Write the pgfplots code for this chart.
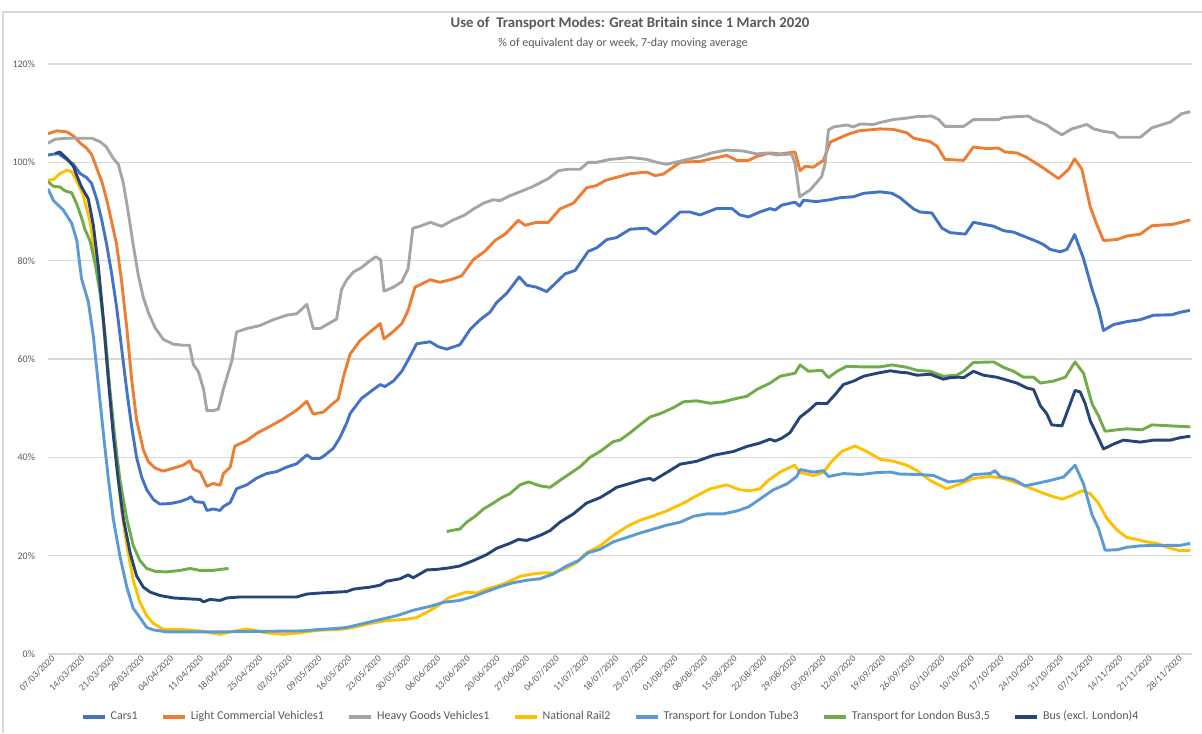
\documentclass[border=0pt]{standalone}
\usepackage{pgfplots}
\pgfplotsset{compat=1.18}
\usepackage{fontspec}
\setmainfont{Carlito}
\definecolor{cCars}{HTML}{4472C4}
\definecolor{cLCV}{HTML}{ED7D31}
\definecolor{cHGV}{HTML}{A5A5A5}
\definecolor{cNR}{HTML}{FFC000}
\definecolor{cTube}{HTML}{5B9BD5}
\definecolor{cBus}{HTML}{70AD47}
\definecolor{cBusx}{HTML}{264478}
\definecolor{cGrid}{HTML}{D9D9D9}
\definecolor{cText}{HTML}{595959}
\begin{document}
\begin{tikzpicture}
\useasboundingbox (-24pt,-39.5pt) rectangle (577pt,327pt);
\draw[cGrid, line width=0.6pt] (-22.5pt,-39.5pt) -- (-22.5pt,321pt) -- (577pt,321pt);
\node[font=\bfseries\fontsize{7.4}{8.4}\selectfont, text=cText] at (291pt,315.5pt) {Use of\ \ Transport Modes: Great Britain since 1 March 2020};
\node[font=\fontsize{6}{7}\selectfont, text=cText] at (287.5pt,305.5pt) {\% of equivalent day or week, 7-day moving average};
\begin{axis}[
  at={(0pt,0pt)}, anchor=south west,
  scale only axis, width=572pt, height=295pt,
  xmin=0, xmax=270, ymin=0, ymax=120,
  axis line style={draw=none},
  major tick length=0pt,
  ymajorgrids, grid style={cGrid, line width=0.6pt},
  ytick={0,20,40,60,80,100,120},
  yticklabels={0\%,20\%,40\%,60\%,80\%,100\%,120\%},
  yticklabel style={font=\fontsize{5}{6}\selectfont, text=cText, xshift=-3pt},
  xtick={0,7,...,266},
  xticklabels={07/03/2020,14/03/2020,21/03/2020,28/03/2020,04/04/2020,11/04/2020,18/04/2020,25/04/2020,02/05/2020,09/05/2020,16/05/2020,23/05/2020,30/05/2020,06/06/2020,13/06/2020,20/06/2020,27/06/2020,04/07/2020,11/07/2020,18/07/2020,25/07/2020,01/08/2020,08/08/2020,15/08/2020,22/08/2020,29/08/2020,05/09/2020,12/09/2020,19/09/2020,26/09/2020,03/10/2020,10/10/2020,17/10/2020,24/10/2020,31/10/2020,07/11/2020,14/11/2020,21/11/2020,28/11/2020},
  xticklabel style={font=\fontsize{4.7}{5.7}\selectfont, text=cText, rotate=45, anchor=east, inner sep=0.6pt, yshift=-3pt, xshift=1.5pt},
  legend style={at={(0.493,-0.1068)}, anchor=center, draw=none, fill=none, legend columns=7,
    font=\fontsize{6}{7}\selectfont, text=cText,
    /tikz/every even column/.append style={column sep=10pt}},
  legend cell align=left,
  legend image code/.code={\draw[#1, line width=1.6pt] (0pt,0pt) -- (11pt,0pt);},
  every axis plot/.append style={line width=1.45pt, line join=round},
]
\addplot[cCars] coordinates {
(0,101.5) (2.4,101.8) (4.4,100.6) (6,99.6) (7.6,97.7) (9.1,96.9) (10.3,95.7) (11.5,92.5) (12.7,88.2) (13.8,83.5) (15,77.5) (16.2,70.5) (17.4,62) (18.6,53.5) (19.7,46.5) (20.9,40) (22.1,36) (23.3,33.4) (24.9,31.4) (26.4,30.5) (28.8,30.6) (31.2,31) (33.1,31.6) (33.7,32) (34.7,31) (36.7,30.8) (37.5,29.2) (39,29.5) (40.6,29.2) (41.4,30) (43,30.8) (44.5,33.6) (46.9,34.4) (49.3,35.8) (51.6,36.7) (54,37.1) (56.3,38) (58.7,38.7) (61.1,40.5) (62.2,39.8) (64.2,39.8) (65,40.2) (67.3,41.8) (68.9,44) (70.5,47) (71.3,48.9) (74,52) (76.8,53.8) (78.4,54.8) (79.5,54.4) (81.5,55.5) (83.5,57.5) (85,59.8) (87,63.1) (90.2,63.5) (92.1,62.5) (94.1,62) (97.2,62.9) (99.6,66) (102,68) (104.3,69.5) (105.9,71.5) (108.3,73.4) (111.2,76.7) (113,75) (115.3,74.6) (117.7,73.7) (120.1,75.7) (122,77.3) (124.4,78) (127.5,81.9) (129.5,82.6) (131.9,84.3) (134.2,84.7) (137.4,86.4) (141.3,86.6) (143.3,85.4) (146,87.4) (149.2,89.9) (151.5,89.9) (153.9,89.3) (157.8,90.6) (161.4,90.6) (163.3,89.3) (165.3,88.9) (168,89.9) (170.4,90.6) (171.6,90.3) (173.2,91.3) (176.3,91.9) (177.4,91.1) (178.3,92.3) (181.4,92) (184.6,92.4) (186.9,92.8) (190.1,93) (192.5,93.7) (196.4,94) (199.2,93.7) (201.1,92.8) (204.3,90.5) (205.8,89.9) (208.6,89.7) (211,86.6) (212.9,85.7) (216.5,85.4) (218.4,87.8) (223.2,87) (225.5,86.1) (227.9,85.8) (230.2,85) (233.4,83.9) (234.9,83.3) (236.5,82.3) (238.9,81.8) (240.5,82.3) (242.3,85.3) (244.4,80.4) (246.4,74.2) (247.9,70.3) (249.1,65.8) (251.5,67) (254.6,67.6) (257.8,68) (260.9,68.9) (265.2,69) (267.2,69.5) (269.5,69.9)
};
\addlegendentry{Cars1}
\addplot[cLCV] coordinates {
(0,105.8) (2,106.4) (4.4,106.2) (6,105.4) (7.6,103.9) (9.1,102.9) (10.3,101.6) (11.5,98.8) (12.7,96.1) (13.8,92.6) (15,88) (16.2,83.3) (17.4,75.6) (18.6,66.3) (19.7,56.2) (20.9,47.7) (22.5,41.5) (23.7,39.1) (25.3,37.8) (27.2,37.2) (29.6,37.8) (31.9,38.4) (33.5,39.3) (34.3,37.6) (35.9,37) (37.5,34.1) (39,34.7) (40.6,34.3) (41.4,36.7) (43,38) (44.1,42.3) (46.9,43.4) (49.3,44.9) (52.4,46.3) (55.5,47.8) (58.7,49.6) (61.1,51.4) (62.6,48.8) (65,49.2) (67.3,51) (68.5,51.8) (69.7,56.3) (71.3,61) (73.6,63.7) (76,65.5) (78.4,67.2) (79.3,64.1) (81.5,65.6) (83.5,67.2) (85,69.9) (86.6,74.6) (90.2,76.1) (92.5,75.6) (94.9,76.1) (97.6,76.9) (100.4,80.2) (103.1,81.9) (105.5,84.1) (107.9,85.4) (111,88.2) (112.6,87.2) (115.3,87.8) (118.1,87.8) (120.8,90.5) (124,91.7) (127.1,94.8) (129.5,95.3) (131.5,96.3) (134,96.9) (137.4,97.7) (141.3,98) (143.3,97.3) (145.2,97.6) (149.2,100) (153.9,100.2) (157,100.8) (160.2,101.4) (162.6,100.4) (165.3,100.4) (167.3,101.2) (170.4,101.9) (172.8,101.7) (176.3,102.1) (177.5,98.3) (178.7,99.2) (180.6,99) (183,100.4) (184.6,104.1) (188.5,105.6) (191.3,106.4) (196.4,106.8) (199.5,106.7) (202.7,106) (204.3,104.9) (208.2,104.2) (209.8,103.3) (211.7,100.6) (216.1,100.4) (218.4,103.1) (221.6,102.8) (224.3,102.9) (225.9,102.1) (228.7,101.9) (231,101) (235,98.8) (238.5,96.7) (240.9,98.6) (242.3,100.7) (244,98.6) (246,90.9) (247.5,87.4) (249.1,84.1) (252.3,84.3) (254.6,85) (257.8,85.4) (260.5,87.1) (265.6,87.4) (269.6,88.3)
};
\addlegendentry{Light Commercial Vehicles1}
\addplot[cHGV] coordinates {
(0,103.9) (1.7,104.7) (4.4,104.9) (10.3,104.9) (12.3,104.2) (13.8,103.1) (15.4,100.8) (16.6,99.6) (17.8,95.7) (19,89.5) (20.1,83.3) (21.3,77.1) (22.5,72.5) (23.7,69.4) (25.3,66.3) (27.2,64) (29.6,63) (31.9,62.8) (33.4,62.8) (34.3,58.9) (35.5,57.4) (36.7,53.9) (37.5,49.5) (39,49.5) (40.2,49.8) (41.4,53.9) (43.4,59.7) (44.5,65.5) (46.9,66.2) (50,66.8) (53.2,68) (56.3,68.9) (58.7,69.2) (61.1,71.1) (62.6,66.2) (64.2,66.2) (66.2,67.2) (68.1,68.1) (69.3,74.2) (70.5,76.1) (72.1,77.7) (74,78.6) (76,80) (77.4,80.8) (78.5,80.2) (79.3,73.8) (81.5,74.6) (83.5,75.7) (85,78.4) (86.1,86.6) (87.8,87) (90.2,87.8) (92.9,87) (95.7,88.3) (98.4,89.3) (100.4,90.5) (102.8,91.7) (105.1,92.4) (106.7,92.2) (109,93.2) (111.4,94) (114.5,95.1) (118.1,96.7) (120.5,98.3) (122.8,98.6) (125.6,98.6) (127.5,100) (129.5,100) (132.6,100.6) (134.2,100.7) (137.4,101) (141.3,100.6) (143.7,100) (146,99.6) (150,100.4) (153.9,101.2) (157,102) (160.2,102.5) (164.1,102.3) (167.3,101.7) (169.6,101.9) (172,101.5) (175.5,101.7) (176.3,99.8) (177.4,93) (179.9,94.4) (182.6,97.1) (183.4,99.8) (184.2,106.6) (185.4,107.2) (188.5,107.6) (190.1,107.2) (191.7,107.8) (194.8,107.7) (196.4,108.1) (199.5,108.7) (202.7,109) (205.1,109.3) (208.6,109.4) (210.2,108.7) (211.7,107.3) (216.1,107.3) (218.4,108.7) (224.3,108.7) (225.5,109.1) (228.7,109.3) (231.4,109.4) (232.6,108.7) (235.7,107.6) (237.3,106.6) (239.3,105.6) (241.6,106.8) (245.2,107.7) (246.8,106.8) (249.1,106.3) (251.5,106) (252.7,105.1) (257.8,105.1) (260.5,107) (264.9,108.2) (267.6,109.9) (269.6,110.3)
};
\addlegendentry{Heavy Goods Vehicles1}
\addplot[cNR] coordinates {
(0,96.4) (1.3,96.5) (2.8,97.7) (4.4,98.4) (5.6,98.1) (6.8,96.1) (8.3,93.4) (9.9,88) (11.5,79.5) (12.7,70.9) (13.8,60.1) (15,49.2) (16.2,38.4) (17.4,29.1) (18.6,22.1) (20.1,15.1) (21.7,10.5) (23.3,7.8) (24.9,6.2) (27.2,5) (31.2,5) (35.9,4.7) (40.6,4) (43.7,4.6) (46.9,5.1) (51.6,4.3) (55.5,4) (59.5,4.3) (63.4,4.8) (68.9,5) (72.1,5.4) (76,6.2) (79.9,6.8) (83.9,7) (87,7.4) (89.4,8.5) (91.7,9.6) (94.5,11.4) (96.5,12) (98.8,12.6) (101.2,12.4) (103.5,13.2) (106.7,14) (109,14.8) (111.4,15.8) (114.6,16.3) (116.9,16.5) (119.3,16.5) (122.4,17.5) (124.8,18.6) (127.1,20.6) (130.3,22) (133.4,24.1) (136.6,25.9) (139.7,27.2) (142.9,28.1) (146,29.1) (150,30.7) (153.1,32.2) (156.3,33.6) (160.2,34.4) (163.3,33.4) (165.7,33.2) (168,33.6) (170,35.3) (172.8,37) (176.2,38.4) (177.5,36.9) (180.7,36.3) (183,36.9) (184.6,38.8) (187.3,41.2) (190.5,42.3) (193.2,41.2) (196.4,39.6) (199.5,39.2) (202.7,38.4) (205.1,37.3) (208.2,35.3) (212.1,33.6) (215.3,34.6) (218.4,35.7) (222.4,36.1) (225.5,35.7) (229.4,34.6) (233.4,33.2) (236.5,32.2) (239.3,31.5) (241.6,32.2) (244,33.2) (246,32.6) (247.9,30.7) (249.9,27.6) (252.3,25.2) (254.6,23.7) (257,23.3) (259.3,22.8) (261.7,22.5) (264.1,21.7) (267.2,21) (269.6,21.1)
};
\addlegendentry{National Rail2}
\addplot[cTube] coordinates {
(0,94.6) (1.3,92.2) (3.6,90.3) (5.6,87.6) (6.8,84.1) (7.9,76.4) (9.5,71.7) (10.7,64.7) (11.9,54.7) (13.1,44.6) (14.2,36) (15.4,27.5) (17,19.8) (18.6,13.6) (20.1,9.3) (21.7,7.4) (23.3,5.4) (24.9,4.9) (28,4.5) (40,4.5) (50,4.6) (60,4.7) (64.2,5) (68.1,5.2) (70.5,5.4) (74.4,6.2) (78.4,7) (82.3,7.8) (86.2,8.9) (90.2,9.7) (93.3,10.5) (97.2,10.9) (100.4,11.7) (103.5,12.7) (106.7,13.7) (109.8,14.5) (113,15) (116.1,15.3) (119.3,16.3) (122.4,17.9) (125.2,19) (127.5,20.6) (130.3,21.3) (133.4,22.8) (136.6,23.7) (139.7,24.6) (142.9,25.4) (146,26.2) (149.2,26.8) (152.3,28) (155.5,28.5) (159.4,28.5) (162.6,29.1) (165.3,29.9) (168,31.5) (171.2,33.4) (174.4,34.6) (176.7,36.1) (177.5,37.5) (180.7,37) (183,37.3) (184.2,36.1) (187.7,36.7) (191.7,36.5) (195.6,36.9) (198.8,37) (201.1,36.6) (205.8,36.5) (209,36.3) (212.5,35) (216.1,35.3) (218.4,36.5) (222.4,36.7) (223.5,37.3) (224.7,36.1) (227.9,35.5) (230.6,34.2) (233.4,34.7) (236.5,35.3) (239.7,36) (242.4,38.4) (244.4,34.6) (246.4,28.3) (247.9,25.6) (249.5,21.1) (252.3,21.2) (254.6,21.7) (257.8,22) (261.7,22.1) (267.2,22.1) (269.6,22.5)
};
\addlegendentry{Transport for London Tube3}
\addplot[cBus, unbounded coords=jump] coordinates {
(0,96.1) (1.3,95.1) (2.8,95) (4,94.2) (5.6,93.8) (6.8,91.5) (7.9,88.8) (8.7,86.4) (9.9,84.1) (11.1,79.5) (12.3,73.3) (13.5,64.7) (14.6,53.9) (15.8,43.8) (17,35.3) (18.6,27.5) (20.1,22.1) (21.7,19) (23.3,17.4) (25.3,16.8) (28,16.7) (31.2,17) (33.5,17.4) (35.9,17) (39,17) (40.6,17.2) (42.6,17.4)
(60,nan)
(94.1,24.9) (95.7,25.2) (97.2,25.4) (98.8,26.8) (100.8,28) (102.8,29.5) (105.1,30.7) (107.1,31.8) (109,32.6) (111.4,34.4) (113.4,35) (116.1,34.2) (118.5,33.9) (120.8,35.3) (123.2,36.7) (125.6,38.1) (127.9,40) (130.3,41.2) (133.4,43.2) (135,43.5) (137.4,45) (139.7,46.6) (142.1,48.2) (144.5,48.9) (147.6,50.1) (150,51.3) (153.1,51.5) (156.3,51) (159.4,51.3) (162.6,52) (164.9,52.4) (167.3,53.8) (170.4,55.1) (172.8,56.5) (176.3,57.1) (177.5,58.8) (179.5,57.5) (182.6,57.7) (184.2,56.2) (186.2,57.5) (188.5,58.5) (192.5,58.4) (196.4,58.4) (199.2,58.8) (202.7,58.3) (205.1,57.7) (208.2,57.5) (211.3,56.5) (214.5,56.7) (216.1,57.5) (218.4,59.3) (223.2,59.4) (225.5,58.3) (227.9,57.5) (230.2,56.3) (232.6,56.3) (234.2,55.1) (237.3,55.5) (240.1,56.3) (242.4,59.4) (244.4,57.1) (246.4,50.9) (247.9,48.5) (249.5,45.3) (252.3,45.6) (254.6,45.8) (258.2,45.6) (260.5,46.6) (264.9,46.4) (269.6,46.2)
};
\addlegendentry{Transport for London Bus3,5}
\addplot[cBusx] coordinates {
(1.7,101.8) (2.8,102.1) (4.4,100.8) (6,99.2) (6.8,97.3) (7.9,95) (9.5,92.6) (10.7,87.2) (11.9,78.7) (13.1,67.8) (14.2,56.2) (15.4,44.6) (16.6,35.3) (17.8,27.5) (19.4,20.5) (20.9,15.9) (22.5,13.6) (24.1,12.6) (26.4,11.9) (29.6,11.4) (33.5,11.2) (35.9,11.1) (36.7,10.6) (38.2,11.1) (40.6,10.9) (42.2,11.4) (45.3,11.6) (50,11.6) (54.8,11.6) (58.7,11.6) (61.1,12.2) (64.2,12.4) (70.5,12.7) (72.1,13.2) (76,13.6) (78.4,14) (79.9,14.8) (83.1,15.3) (85,16.1) (86.2,15.5) (89.4,17.1) (91.7,17.2) (94.5,17.5) (97.2,17.9) (100.4,19) (103.5,20.2) (105.9,21.5) (109,22.5) (111,23.3) (113,23.1) (116.1,24.1) (118.5,25.1) (120.8,26.8) (124,28.5) (127.1,30.7) (130.3,31.8) (132.6,33) (134.2,33.9) (137.4,34.7) (140.5,35.5) (142.1,35.7) (142.9,35.3) (146,36.9) (149.2,38.6) (153.1,39.2) (157,40.4) (161.8,41.2) (164.9,42.2) (168,42.9) (170.4,43.7) (171.6,43.3) (173.2,43.9) (175.1,45) (177.5,48.2) (179.5,49.5) (181.4,51) (183.8,50.9) (185.8,52.8) (187.7,54.8) (190.1,55.5) (192.5,56.5) (195.6,57.1) (198.8,57.6) (201.1,57.3) (202.7,57.2) (205.1,56.7) (208.2,56.9) (211.3,55.9) (212.9,56.2) (214.9,56.3) (216.1,56.2) (218.4,57.5) (220.8,56.7) (223.9,56.3) (226.3,55.7) (228.7,55.1) (231,54.1) (232.6,53.8) (234.2,50.5) (235.7,48.9) (236.9,46.6) (239.3,46.4) (240.9,50.1) (242.4,53.6) (243.6,53.3) (244.8,50.9) (246,47.4) (247.5,44.7) (249.1,41.7) (251.5,42.7) (253.8,43.5) (257.8,43.1) (260.9,43.5) (264.9,43.5) (267.2,44) (269.6,44.3)
};
\addlegendentry{Bus (excl. London)4}
\end{axis}
\end{tikzpicture}
\end{document}
